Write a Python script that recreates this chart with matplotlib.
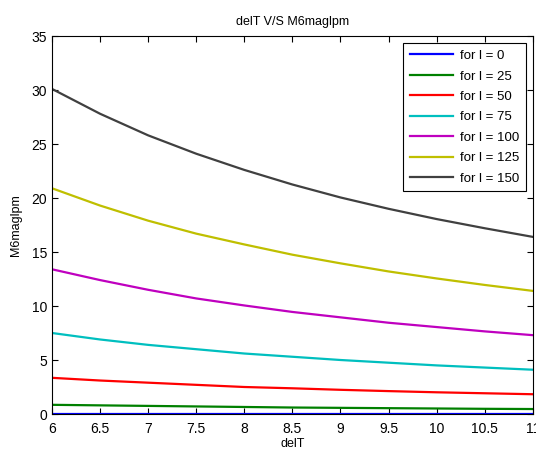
import matplotlib.pyplot as plt

plt.rcParams['font.family'] = ['Liberation Sans', 'DejaVu Sans']

delT = [6, 6.5, 7, 7.5, 8, 8.5, 9, 9.5, 10, 10.5, 11]

# M6maglpm for each l value
m_l0 = [0, 0, 0, 0, 0, 0, 0, 0, 0, 0, 0]
m_l25 = [0.85, 0.8, 0.75, 0.7, 0.65, 0.6, 0.57, 0.54, 0.51, 0.48, 0.46]
m_l50 = [3.35, 3.1, 2.9, 2.7, 2.5, 2.38, 2.24, 2.12, 2.01, 1.92, 1.83]
m_l75 = [7.5, 6.9, 6.4, 6.0, 5.6, 5.3, 5.0, 4.75, 4.5, 4.3, 4.1]
m_l100 = [13.4, 12.4, 11.5, 10.7, 10.05, 9.45, 8.95, 8.45, 8.05, 7.65, 7.3]
m_l125 = [20.9, 19.3, 17.9, 16.7, 15.7, 14.75, 13.95, 13.2, 12.55, 11.95, 11.4]
m_l150 = [30.1, 27.8, 25.8, 24.1, 22.6, 21.25, 20.05, 19.0, 18.05, 17.2, 16.4]

labels = ['for l = 0', 'for l = 25', 'for l = 50', 'for l = 75',
          'for l = 100', 'for l = 125', 'for l = 150']
series = [m_l0, m_l25, m_l50, m_l75, m_l100, m_l125, m_l150]
colors = ['#0000ff', '#008000', '#ff0000', '#00bfbf', '#bf00bf', '#bfbf00', '#404040']

fig = plt.figure(figsize=(5.36, 4.5), dpi=100)
ax = fig.add_axes([0.097, 0.08, 0.897, 0.84])

for y, c, lab in zip(series, colors, labels):
    ax.plot(delT, y, color=c, linewidth=1.6, label=lab)

ax.set_xlim(6, 11)
ax.set_ylim(0, 35)
ax.set_xticks(delT)
ax.set_xticklabels(['6', '6.5', '7', '7.5', '8', '8.5', '9', '9.5', '10', '10.5', '11'])
ax.set_yticks(range(0, 36, 5))
ax.tick_params(direction='in', top=True, right=True, labelsize=10, length=4, width=0.8)
ax.tick_params(axis='x', pad=6)
for s in ax.spines.values():
    s.set_linewidth(0.8)

ax.set_title('delT V/S M6maglpm', fontsize=9, pad=8)
ax.set_xlabel('delT', fontsize=9, labelpad=1.5)
ax.set_ylabel('M6maglpm', fontsize=9, labelpad=7)

leg = ax.legend(loc='upper right', fontsize=9.5, fancybox=False, edgecolor='black',
                framealpha=1, borderaxespad=0.55, handlelength=3.3, labelspacing=0.62,
                borderpad=0.5, handletextpad=0.5)
leg.get_frame().set_linewidth(0.8)

plt.savefig('out.png', dpi=100)
plt.close()
